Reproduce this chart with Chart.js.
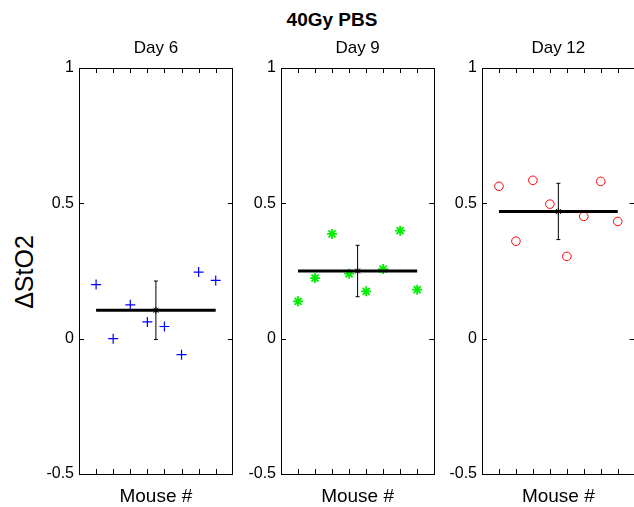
<!DOCTYPE html>
<html>
<head>
<meta charset="utf-8">
<script src="https://cdn.jsdelivr.net/npm/chart.js@4"></script>
<style>
  body { margin: 0; background: #fff; }
  #wrap { position: relative; width: 634px; height: 507px; overflow: hidden; font-family: "Liberation Sans", Arial, sans-serif; color: #000; }
  #wrap canvas { position: absolute; top: 0; }
  #mainTitle { position: absolute; left: 232px; width: 200px; top: 9px; line-height: 22px; text-align: center; font-weight: bold; font-size: 19px; }
  #yLabel { position: absolute; left: 24px; top: 272px; transform: translate(-50%, -50%) rotate(-90deg); white-space: nowrap; font-size: 25px; }
</style>
</head>
<body>
<div id="wrap">
  <div id="mainTitle">40Gy PBS</div>
  <div id="yLabel">ΔStO2</div>
  <canvas id="day6" width="200" height="507" style="left:39px"></canvas>
  <canvas id="day9" width="200" height="507" style="left:241px"></canvas>
  <canvas id="day12" width="198" height="507" style="left:442px"></canvas>
</div>
<script>
// --------------------
// DATA
// --------------------
const mouseIds = [1, 2, 3, 4, 5, 6, 7, 8];
const dayLabels = ["Day 6", "Day 9", "Day 12"];
const day6Values = [0.20, 0.00, 0.125, 0.062, 0.045, -0.059, 0.246, 0.215];
const day9Values = [0.138, 0.224, 0.387, 0.24, 0.175, 0.257, 0.399, 0.181];
const day12Values = [0.563, 0.36, 0.585, 0.497, 0.304, 0.452, 0.581, 0.433];
const meanValues = [0.105, 0.25, 0.47];
const errValues = [0.108, 0.095, 0.104];
const meanX = 4.5;
const yTicks = [-0.5, 0, 0.5, 1];

Chart.defaults.font.family = '"Liberation Sans", Arial, sans-serif';
Chart.defaults.color = "#000";

// MATLAB style: ticks point into the box on all four sides
const inwardTicks = {
  id: "inwardTicks",
  afterDraw(chart) {
    const { ctx, chartArea: a, scales: { x, y } } = chart;
    ctx.save();
    ctx.strokeStyle = "#000";
    ctx.lineWidth = 1;
    ctx.beginPath();
    mouseIds.forEach(v => {
      const px = Math.round(x.getPixelForValue(v)) + 0.5;
      ctx.moveTo(px, a.bottom); ctx.lineTo(px, a.bottom - 5);
      ctx.moveTo(px, a.top); ctx.lineTo(px, a.top + 5);
    });
    yTicks.forEach(v => {
      const py = Math.round(y.getPixelForValue(v)) + 0.5;
      ctx.moveTo(a.left, py); ctx.lineTo(a.left + 5, py);
      ctx.moveTo(a.right, py); ctx.lineTo(a.right - 5, py);
    });
    ctx.stroke();
    ctx.restore();
  }
};

const border = { display: true, color: "#000", width: 1 };

function makePanel(id, label, values, mean, err, style, rightWidth) {
  const ctx = document.getElementById(id).getContext("2d");
  return new Chart(ctx, {
    data: {
      datasets: [
        {
          type: "scatter",
          data: [{ x: meanX, y: mean }],
          pointStyle: "star",
          pointRadius: 3.5,
          borderColor: "#000",
          borderWidth: 1
        },
        {
          type: "line",
          data: [{ x: mouseIds[0], y: mean }, { x: mouseIds[mouseIds.length - 1], y: mean }],
          borderColor: "#000",
          borderWidth: 3,
          pointRadius: 0
        },
        {
          type: "line",
          data: [{ x: meanX, y: mean - err }, { x: meanX, y: mean + err }],
          borderColor: "#000",
          borderWidth: 1,
          pointStyle: "line",
          pointRadius: 2,
          pointBorderColor: "#000",
          pointBorderWidth: 1
        },
        {
          type: "scatter",
          data: mouseIds.map((m, i) => ({ x: m, y: values[i] })),
          pointStyle: style.shape,
          pointRadius: style.radius,
          borderColor: style.color,
          backgroundColor: "rgba(0,0,0,0)",
          borderWidth: style.width
        }
      ]
    },
    options: {
      responsive: false,
      animation: false,
      events: [],
      layout: { padding: 0 },
      plugins: { legend: { display: false }, tooltip: { enabled: false } },
      scales: {
        x: {
          type: "linear", position: "bottom", min: 0, max: 9,
          grid: { display: false, drawTicks: false },
          border: border,
          ticks: { display: false },
          title: { display: true, text: "Mouse #", font: { size: 19, lineHeight: 1 }, padding: { top: 0, bottom: 1 } },
          afterFit: s => { s.height = 33; }
        },
        x2: {
          type: "linear", position: "top", min: 0, max: 9,
          grid: { display: false, drawTicks: false },
          border: border,
          ticks: { display: false },
          title: { display: true, text: label, font: { size: 17, lineHeight: 1 }, padding: { top: 40, bottom: 0 } },
          afterFit: s => { s.height = 68; }
        },
        y: {
          type: "linear", position: "left", min: -0.5, max: 1,
          afterBuildTicks: s => { s.ticks = yTicks.map(v => ({ value: v })); },
          grid: { display: false, drawTicks: false },
          border: border,
          ticks: { padding: 5, font: { size: 16 }, callback: v => String(v) },
          afterFit: s => { s.width = 40; }
        },
        y2: {
          type: "linear", position: "right", min: -0.5, max: 1,
          grid: { display: false, drawTicks: false },
          border: border,
          ticks: { display: false },
          afterFit: s => { s.width = rightWidth; }
        }
      }
    },
    plugins: [inwardTicks]
  });
}

makePanel("day6", dayLabels[0], day6Values, meanValues[0], errValues[0],
  { shape: "cross", radius: 5, color: "#0000ff", width: 1.2 }, 1);
makePanel("day9", dayLabels[1], day9Values, meanValues[1], errValues[1],
  { shape: "star", radius: 5, color: "#00ee00", width: 1.8 }, 1);
makePanel("day12", dayLabels[2], day12Values, meanValues[2], errValues[2],
  { shape: "circle", radius: 4.3, color: "#ff0000", width: 1 }, 1);
</script>
</body>
</html>
